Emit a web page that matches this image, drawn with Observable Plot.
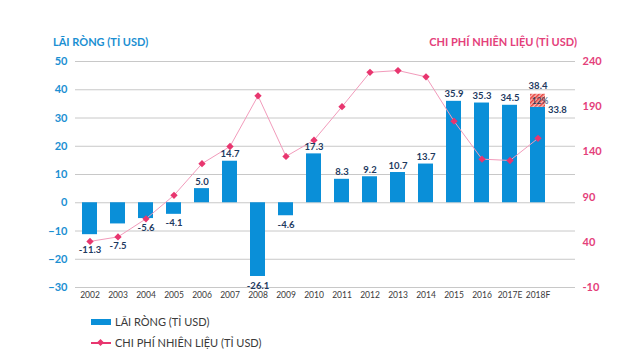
<!DOCTYPE html>
<html><head><meta charset="utf-8">
<script src="https://cdn.jsdelivr.net/npm/d3@7"></script>
<script src="https://cdn.jsdelivr.net/npm/@observablehq/plot@0.6"></script>
<style>
body{margin:0;background:#fff;font-family:Lato,"Open Sans",sans-serif;}
#wrap{position:relative;width:640px;height:360px;overflow:hidden;}
#chart{position:absolute;left:0;top:0;}
.t{position:absolute;font-weight:700;font-size:11px;white-space:nowrap;line-height:12px;}
.lg{position:absolute;font-size:11px;color:#3a3a3a;white-space:nowrap;line-height:12px;}
</style></head><body>
<div id="wrap">
  <div id="chart"></div>
  <div class="t" style="left:53px;top:36px;color:#1b8fd2;">LÃI RÒNG (TỈ USD)</div>
  <div class="t" style="right:63px;top:36px;color:#e4407a;">CHI PHÍ NHIÊN LIỆU (TỈ USD)</div>
  <div style="position:absolute;left:91px;top:319px;width:20px;height:6px;background:#0a8fd8;"></div>
  <div class="lg" style="left:115px;top:316px;">LÃI RÒNG (TỈ USD)</div>
  <div style="position:absolute;left:91px;top:342px;width:20px;height:2px;background:#e8366f;"></div>
  <div style="position:absolute;left:98px;top:340px;width:5px;height:5px;background:#e8366f;transform:rotate(45deg);"></div>
  <div class="lg" style="left:115px;top:337px;">CHI PHÍ NHIÊN LIỆU (TỈ USD)</div>
</div>
<script>
const years = ["2002","2003","2004","2005","2006","2007","2008","2009","2010","2011","2012","2013","2014","2015","2016","2017E","2018F"];
const netProfit = [-11.3,-7.5,-5.6,-4.1,5.0,14.7,-26.1,-4.6,17.3,8.3,9.2,10.7,13.7,35.9,35.3,34.5,33.8];
const fuelCost = [41,46,66,92,127,146,202,135,153,190,228,230,223,174,132,130.5,155];
const forecastYear = "2018F";
const forecastTop = 38.4;
const forecastShare = "12%";
const leftTicks = [-30,-20,-10,0,10,20,30,40,50];
const rightTicks = [-10,40,90,140,190,240];

const leftDomain = [-30, 50];
const rightDomain = [-10, 240];
const toLeft = r => leftDomain[0] + (r - rightDomain[0]) * (leftDomain[1]-leftDomain[0]) / (rightDomain[1]-rightDomain[0]);
const fromLeft = l => rightDomain[0] + (l - leftDomain[0]) * (rightDomain[1]-rightDomain[0]) / (leftDomain[1]-leftDomain[0]);

const rows = years.map((y,i) => ({year:y, profit:netProfit[i], fuel:fuelCost[i], fuelL:toLeft(fuelCost[i])}));
const fc = rows.find(d => d.year === forecastYear);
const navy = "#1e3a5f";

const chart = Plot.plot({
  width:640, height:360,
  marginTop:61, marginBottom:73, marginLeft:75, marginRight:65,
  style:{fontFamily:"Lato, 'Open Sans', sans-serif", background:"transparent"},
  x:{type:"band", domain:years, range:[75,551], paddingInner:0.47, paddingOuter:0.235},
  y:{domain:leftDomain},
  marks:[
    Plot.ruleY(leftTicks, {stroke:"#c8c8c8", strokeWidth:1}),
    Plot.barY(rows, {x:"year", y:"profit", fill:"#0a8fd8"}),
    Plot.barY([fc], {x:"year", y1:"profit", y2:() => forecastTop, fill:"url(#hatch)"}),
    Plot.line(rows, {x:"year", y:"fuelL", stroke:"#f29bbb", strokeWidth:1}),
    Plot.dot(rows, {x:"year", y:"fuelL", symbol:"diamond2", r:3.3, fill:"#e8366f", stroke:"none"}),
    Plot.axisY(leftTicks, {anchor:"left", tickSize:0, tickPadding:8, color:"#1b8fd2", fontSize:11, fontWeight:700, label:null}),
    Plot.axisY(rightTicks.map(toLeft), {anchor:"right", tickSize:0, tickPadding:7, color:"#e4407a", fontSize:11, fontWeight:700, label:null, tickFormat: v => Math.round(fromLeft(v))}),
    Plot.axisX({tickSize:0, tickPadding:4, fontSize:8.5, fill:"#3a3a3a", label:null}),
    Plot.text(rows.filter(d => d.profit >= 0 && d.year !== forecastYear), {x:"year", y:"profit", text:d => d.profit.toFixed(1), dy:-7, fill:navy, fontSize:9.5, fontWeight:700}),
    Plot.text(rows.filter(d => d.profit < 0), {x:"year", y:d => Math.min(d.profit, d.fuelL), text:d => d.profit.toFixed(1), dy:9, fill:navy, fontSize:9.5, fontWeight:700}),
    Plot.text([fc], {x:"year", y:() => forecastTop, text:() => forecastTop.toFixed(1), dy:-8, fill:navy, fontSize:9.5, fontWeight:700}),
    Plot.text([fc], {x:"year", y:"profit", text:d => d.profit.toFixed(1), dx:10, dy:2.5, textAnchor:"start", fill:navy, fontSize:9.5, fontWeight:700}),
    Plot.text([fc], {x:"year", y:d => (d.profit + forecastTop)/2, text:() => forecastShare, dx:2, fill:navy, fontSize:8.5, fontWeight:400})
  ]
});
d3.select(chart).insert("defs", ":first-child").html(
  '<pattern id="hatch" patternUnits="userSpaceOnUse" width="3" height="3" patternTransform="rotate(45)">' +
  '<rect width="3" height="3" fill="#f7c3bd"/><rect width="1.6" height="3" fill="#e8423f"/></pattern>');
document.getElementById("chart").appendChild(chart);
</script>
</body></html>
